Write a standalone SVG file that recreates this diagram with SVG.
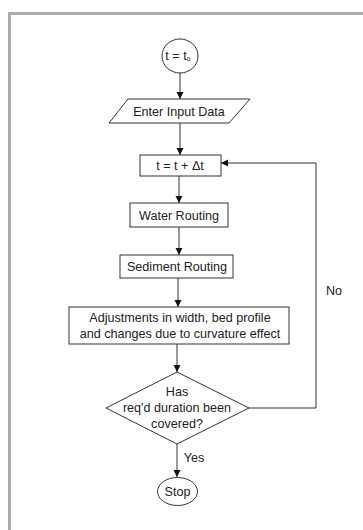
<svg xmlns="http://www.w3.org/2000/svg" width="363" height="530" viewBox="0 0 363 530">
<defs>
<marker id="ah" markerWidth="8" markerHeight="8" refX="7" refY="4" orient="auto" markerUnits="userSpaceOnUse">
<path d="M0,0.5 L7,4 L0,7.5 Z" fill="#111"/>
</marker>
<style>
.n{fill:#fff;stroke:#333;stroke-width:1}
.c{fill:none;stroke:#333;stroke-width:1}
text{font-family:"Liberation Sans",Arial,sans-serif;font-size:12.6px;fill:#222;text-anchor:middle}
</style>
</defs>
<rect width="363" height="530" fill="#fff"/>
<path d="M9.5,530 V13.5 H363" fill="none" stroke="#adadad" stroke-width="3"/>
<g id="connectors">
<line class="c" x1="180" y1="73" x2="180" y2="99" marker-end="url(#ah)"/>
<line class="c" x1="180" y1="123" x2="180" y2="155" marker-end="url(#ah)"/>
<line class="c" x1="179" y1="176" x2="179" y2="203" marker-end="url(#ah)"/>
<line class="c" x1="179" y1="227" x2="179" y2="255" marker-end="url(#ah)"/>
<line class="c" x1="178" y1="278" x2="178" y2="307" marker-end="url(#ah)"/>
<line class="c" x1="177" y1="344" x2="177" y2="372" marker-end="url(#ah)"/>
<line class="c" x1="177" y1="444" x2="177" y2="477" marker-end="url(#ah)"/>
<polyline class="c" points="249,408 316,408 316,163 221,163" marker-end="url(#ah)"/>
<text x="334" y="295">No</text>
<text x="194" y="462">Yes</text>
</g>
<g id="start">
<ellipse class="n" cx="180" cy="56" rx="18" ry="17"/>
<text x="178" y="60">t = t<tspan font-size="7" dy="1">o</tspan></text>
</g>
<g id="input">
<polygon class="n" points="128,99 250,99 229,123 109,123"/>
<text x="179" y="115.5">Enter Input Data</text>
</g>
<g id="increment">
<rect class="n" x="140" y="155" width="81" height="21"/>
<text x="180" y="169.5" font-size="11.5">t = t + Δt</text>
</g>
<g id="water">
<rect class="n" x="130" y="203" width="98" height="24"/>
<text x="179" y="219.5">Water Routing</text>
</g>
<g id="sediment">
<rect class="n" x="120" y="255" width="113" height="23"/>
<text x="177" y="271">Sediment Routing</text>
</g>
<g id="adjust">
<rect class="n" x="69" y="307" width="220" height="37"/>
<text x="180" y="321.5">Adjustments in width, bed profile</text>
<text x="180" y="337.5">and changes due to curvature effect</text>
</g>
<g id="decision">
<polygon class="n" points="177,372 249,408 177,444 106,408"/>
<text x="177" y="396">Has</text>
<text x="177" y="412">req'd duration been</text>
<text x="177" y="427.5">covered?</text>
</g>
<g id="stop">
<ellipse class="n" cx="177.5" cy="491.5" rx="20" ry="14"/>
<text x="177.5" y="496">Stop</text>
</g>
</svg>
